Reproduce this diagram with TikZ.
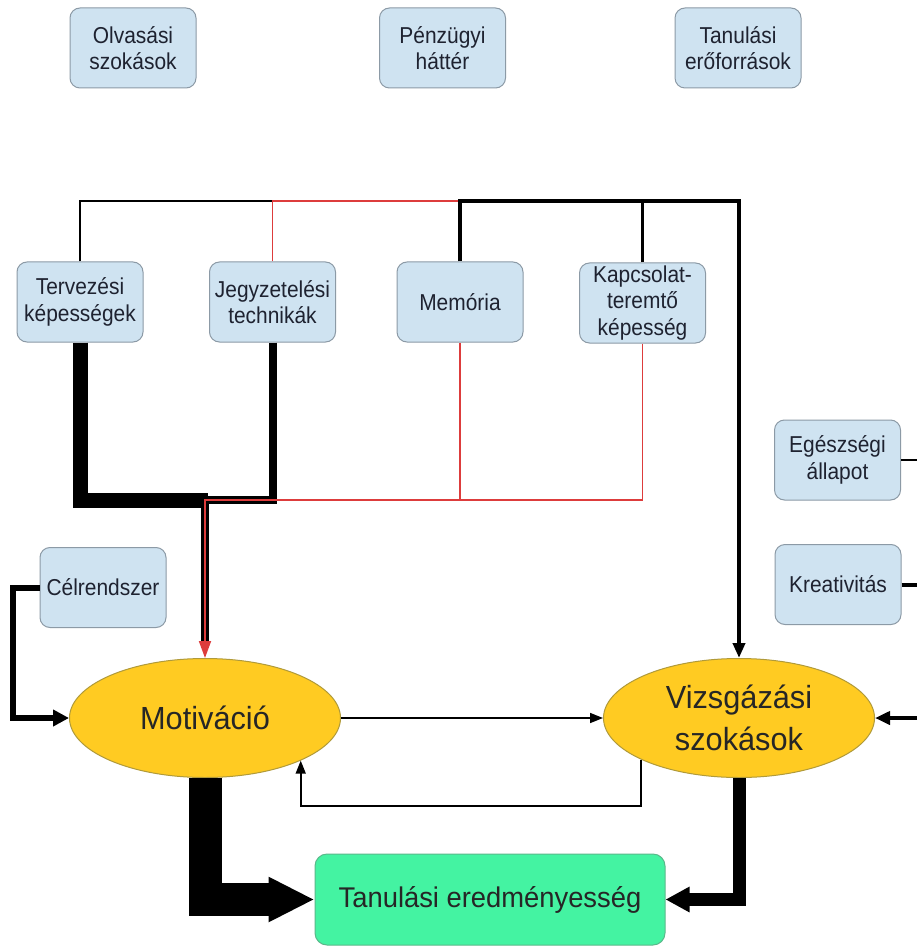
\documentclass[tikz,border=0pt]{standalone}
\usepackage{fontspec}
\setmainfont{Liberation Sans}
\newfontfamily\boxfont{Liberation Sans}[FakeStretch=0.91]
\newfontfamily\ovalfont{Liberation Sans}[FakeStretch=0.96]
\usetikzlibrary{arrows.meta,shapes.geometric}
\definecolor{boxfill}{HTML}{CFE3F1}
\definecolor{boxdraw}{HTML}{8C9AA6}
\definecolor{boxtext}{HTML}{1E2230}
\definecolor{ovalfill}{HTML}{FFCB22}
\definecolor{ovaldraw}{HTML}{B09A3A}
\definecolor{greenfill}{HTML}{44F3A2}
\definecolor{greendraw}{HTML}{5AB88A}
\definecolor{redline}{HTML}{DD3C3C}
\begin{document}
\begin{tikzpicture}[x=1pt,y=-1pt,
  fbox/.style={draw=boxdraw, line width=1pt, fill=boxfill, rounded corners=10pt,
    minimum width=126pt, minimum height=80pt, align=center, inner sep=0pt,
    font=\boxfont\fontsize{23}{26.5}\selectfont, text=boxtext},
  oval/.style={ellipse, draw=ovaldraw, fill=ovalfill, line width=1pt, inner sep=0pt,
    align=center, minimum width=271pt, minimum height=119pt,
    font=\ovalfont\fontsize{32}{42}\selectfont, text=black!85},
  resbox/.style={draw=greendraw, line width=1pt, fill=greenfill, rounded corners=12pt,
    minimum width=350pt, minimum height=91pt, inner sep=0pt,
    font=\ovalfont\fontsize{28.5}{32}\selectfont, text=black!85},
  thinln/.style={line width=1.6pt, black},
  redln/.style={line width=1.3pt, redline},
]
\useasboundingbox (0,0) rectangle (917,949);
\fill[white] (0,0) rectangle (917,949);

% top row
\node[fbox] (olv)   at (133,48)  {Olvasási\\szokások};
\node[fbox] (penz)  at (442.5,48) {Pénzügyi\\háttér};
\node[fbox] (tanf)  at (738,48)  {Tanulási\\erőforrások};

% skills row
\node[fbox] (terv)  at (80,302)    {Tervezési\\képességek};
\node[fbox] (jegy)  at (272.5,302) {Jegyzetelési\\technikák};
\node[fbox] (mem)   at (460,302)   {Memória};
\node[fbox] (kapcs) at (642.5,303) {Kapcsolat-\\teremtő\\képesség};

\node[fbox] (egesz) at (837.5,460) {Egészségi\\állapot};
\node[fbox] (kreat) at (838,584.5) {Kreativitás};
\node[fbox] (cel)   at (103,587.5) {Célrendszer};

\node[oval] (mot)  at (205,718) {Motiváció};
\node[oval] (vizs) at (739,718) {Vizsgázási\\szokások};
\node[resbox] (tan) at (490,899.5) {Tanulási eredményesség};

\coordinate (ytop) at (0,201);
\coordinate (ybot) at (0,500);
\coordinate (tj)   at (208,500);
\coordinate (celx) at (13,0);
\coordinate (fb)   at (0,806);
\coordinate (e1)   at (917,460);
\coordinate (e2)   at (917,584.5);
\coordinate (e3)   at (917,718);

% top bus
\draw[thinln] (terv.north) |- (jegy.north |- ytop);
\draw[redln] (jegy.north) |- (mem.north |- ytop);
\draw[line width=2.6pt] (kapcs.north) -- (kapcs.north |- ytop);
\draw[line width=4.2pt, -{Triangle[length=15pt,width=12pt]}]
  (mem.north) |- (vizs.north |- ytop) -- (vizs.north);

% bottom bus
\draw[line width=15pt] (terv.south) |- (tj);
\draw[line width=8pt, shorten >=15pt] (jegy.south) |- (mot.north |- ybot) -- (mot.north);
\draw[redln] (mem.south) -- (mem.south |- ybot);
\draw[line width=1.8pt, redline, -{Triangle[length=17pt,width=12pt]}]
  (kapcs.south) |- (mot.north |- ybot) -- (mot.north);

% Célrendszer
\draw[line width=6pt, -{Triangle[length=16pt,width=16pt]}]
  (cel.west) -- (celx |- cel.west) |- (mot.west);

% Motiváció -> Vizsgázási
\draw[thinln, -{Triangle[length=13pt,width=10pt]}] (mot.east) -- (vizs.west);
% feedback
\draw[thinln, -{Triangle[length=13pt,width=10pt]}]
  (vizs.203.6) -- (vizs.203.6 |- fb) -| (mot.336);

% to result
\draw[line width=33pt, -{Triangle[length=46pt,width=42pt]}] (mot.south) |- (tan.west);
\draw[line width=13pt, -{Triangle[length=24pt,width=24pt]}] (vizs.south) |- (tan.east);

% right side
\draw[thinln] (egesz.east) -- (e1);
\draw[line width=4pt] (kreat.east) -- (e2);
\draw[line width=4.2pt, -{Triangle[length=15pt,width=13pt]}] (e3) -- (vizs.east);
\end{tikzpicture}
\end{document}
